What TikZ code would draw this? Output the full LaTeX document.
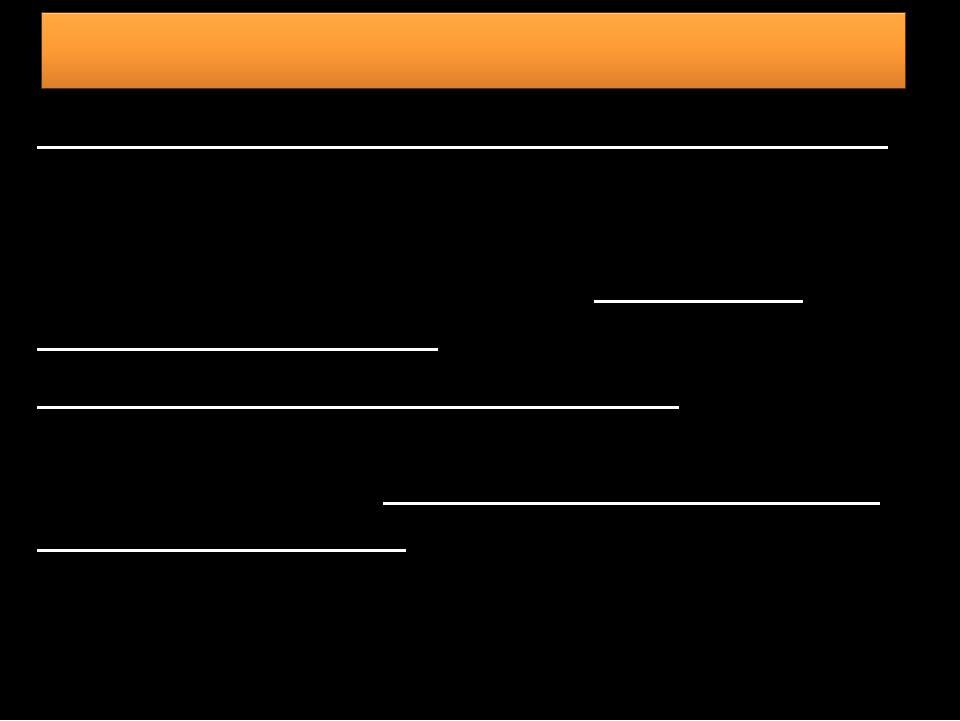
\documentclass[tikz,border=0pt]{standalone}
\usetikzlibrary{shadows}
\definecolor{barTop}{HTML}{FFAA40}
\definecolor{barMid}{HTML}{FF9A35}
\definecolor{barBot}{HTML}{DD7E2A}
\definecolor{barEdge}{HTML}{FFD070}
\begin{document}
\begin{tikzpicture}[x=0.02cm,y=-0.02cm,
  rule/.style={white,line width=3*0.02cm}]
\fill[black] (0,0) rectangle (960,720);
\useasboundingbox (0,0) rectangle (960,720);
% title bar
\shade[top color=barTop,bottom color=barBot,middle color=barMid] (41,12) rectangle (905,88);
\draw[barEdge,line width=0.03cm] (41,13) -- (905,13);
\draw[black!60!barBot,line width=0.02cm] (41,12) rectangle (905,88);
% white rules
\draw[rule] (37,147) -- (888,147);
\draw[rule] (594,301) -- (803,301);
\draw[rule] (37,349) -- (438,349);
\draw[rule] (37,407) -- (679,407);
\draw[rule] (383,503) -- (880,503);
\draw[rule] (37,550) -- (406,550);
\end{tikzpicture}
\end{document}
